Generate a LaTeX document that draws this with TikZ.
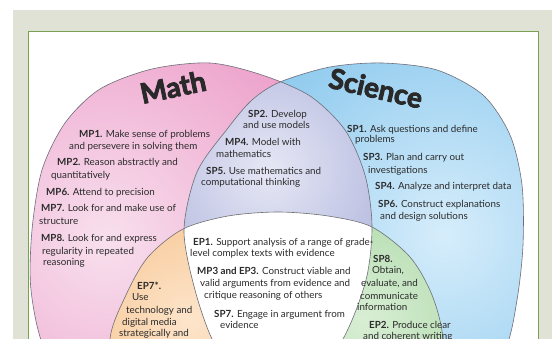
\documentclass[tikz,border=0pt]{standalone}
\usepackage{fontspec}
\setmainfont{Lato}
\newfontfamily\titlefont[BoldFeatures={FakeBold=3}]{Lato}
\definecolor{bgc}{HTML}{DFE2D4}
\definecolor{framec}{HTML}{7AA052}
\definecolor{txt}{HTML}{2B2B2B}
\definecolor{pinkO}{HTML}{E98ABE}
\definecolor{pinkI}{HTML}{F8E0EE}
\definecolor{blueO}{HTML}{78BFEA}
\definecolor{blueI}{HTML}{D6EDFB}
\definecolor{purpO}{HTML}{939ACF}
\definecolor{purpI}{HTML}{E6E7F5}
\definecolor{orO}{HTML}{F3B474}
\definecolor{orI}{HTML}{FDE5CB}
\definecolor{grO}{HTML}{9BD096}
\definecolor{grI}{HTML}{D8EED4}
\definecolor{edgec}{HTML}{6E6E78}
\begin{document}
\begin{tikzpicture}[x=1pt,y=-1pt,
  t/.style={anchor=base west, inner sep=0pt, font=\fontsize{9.8}{11}\selectfont, text=txt},
  title/.style={inner sep=0pt, font=\titlefont\fontsize{28}{28}\selectfont\bfseries, text=txt!95!black},
  edge/.style={draw=edgec, line width=0.6pt}]
\useasboundingbox (0,0) rectangle (552,339);
\fill[bgc] (13,10) rectangle (552,339);
\def\Mpath{plot[smooth cycle] coordinates {(210,63) (262,75) (310,96) (345,130) (365,175) (372,226) (366,280) (343,339) (300,400) (230,435) (150,430) (85,400) (45,350) (31,290) (32,230) (42,170) (65,123) (100,89) (152,69)}}
\def\Spath{plot[smooth cycle] coordinates {(382,63) (437,70) (483,95) (510,135) (522,185) (523,245) (517,300) (505,350) (470,400) (400,430) (320,420) (250,390) (215,345) (195,290) (184,230) (197,172) (228,128) (252,100) (280,82) (330,67)}}
\def\Epath{plot[smooth cycle] coordinates {(278,212) (328,216) (372,227) (410,257) (432,295) (443,339) (440,400) (380,450) (278,465) (176,450) (116,400) (110,339) (126,295) (148,257) (183,229) (228,216)}}
\begin{scope}
  \clip (28,32) rectangle (538,339);
  \fill[white] (28,32) rectangle (538,339);
  \begin{scope}
    \clip \Mpath;
    \shade[inner color=pinkI, outer color=pinkO] (105,240) circle (330pt);
  \end{scope}
  \begin{scope}
    \clip \Spath;
    \shade[inner color=blueI, outer color=blueO] (445,235) circle (300pt);
  \end{scope}
  \begin{scope}
    \clip \Mpath;
    \clip \Spath;
    \shade[inner color=purpI, outer color=purpO] (268,170) circle (230pt);
  \end{scope}
  \begin{scope}
    \clip \Mpath;
    \clip \Epath;
    \shade[inner color=orI, outer color=orO] (190,320) circle (200pt);
  \end{scope}
  \begin{scope}
    \clip \Spath;
    \clip \Epath;
    \shade[inner color=grI, outer color=grO] (365,320) circle (200pt);
  \end{scope}
  \begin{scope}
    \clip \Mpath;
    \clip \Spath;
    \fill[white] \Epath;
  \end{scope}
  \draw[edge] \Mpath;
  \draw[edge] \Spath;
  \draw[edge] \Epath;
\end{scope}
\draw[framec, line width=1pt] (28,345) -- (28,32) -- (538,32) -- (538,345);

\node[title, rotate=12] (math) at (173,87) {Math};
\node[title, rotate=-13] (sci) at (376,88) {Science};

% Math block
\node[t] (mp1a) at (79,138) {\textbf{MP1.} Make sense of problems};
\node[t] (mp1b) at (69,149.5) {and persevere in solving them};
\node[t] (mp2a) at (57,166) {\textbf{MP2.} Reason abstractly and};
\node[t] (mp2b) at (51,178.5) {quantitatively};
\node[t] (mp6) at (46,196) {\textbf{MP6.} Attend to precision};
\node[t] (mp7a) at (41,212) {\textbf{MP7.} Look for and make use of};
\node[t] (mp7b) at (39,225) {structure};
\node[t] (mp8a) at (41,242) {\textbf{MP8.} Look for and express};
\node[t] (mp8b) at (42,255) {regularity in repeated};
\node[t] (mp8c) at (43,266) {reasoning};

% Math and Science
\node[t] (sp2a) at (248,118) {\textbf{SP2.} Develop};
\node[t] (sp2b) at (243,129) {and use models};
\node[t] (mp4a) at (225,146) {\textbf{MP4.} Model with};
\node[t] (mp4b) at (216,158) {mathematics};
\node[t] (sp5a) at (206,175) {\textbf{SP5.} Use mathematics and};
\node[t] (sp5b) at (201,186) {computational thinking};

% Science block
\node[t] (sp1a) at (347,133) {\textbf{SP1.} Ask questions and define};
\node[t] (sp1b) at (355,143) {problems};
\node[t] (sp3a) at (363,161) {\textbf{SP3.} Plan and carry out};
\node[t] (sp3b) at (368,174) {investigations};
\node[t] (sp4) at (375,190) {\textbf{SP4.} Analyze and interpret data};
\node[t] (sp6a) at (378,208) {\textbf{SP6.} Construct explanations};
\node[t] (sp6b) at (380,220) {and design solutions};

% centre
\node[t] (ep1a) at (193,246) {\textbf{EP1.} Support analysis of a range of grade-};
\node[t] (ep1b) at (190,257) {level complex texts with evidence};
\node[t] (mp3a) at (197,275) {\textbf{MP3 and EP3.} Construct viable and};
\node[t] (mp3b) at (200,287) {valid arguments from evidence and};
\node[t] (mp3c) at (204,299) {critique reasoning of others};
\node[t] (sp7a) at (214,317) {\textbf{SP7.} Engage in argument from};
\node[t] (sp7b) at (220,329) {evidence};

% Math and ELA
\node[t] (ep7a) at (137,290) {\textbf{EP7*.}};
\node[t] (ep7b) at (132,301) {Use};
\node[t] (ep7c) at (126,313) {technology and};
\node[t] (ep7d) at (122,326) {digital media};
\node[t] (ep7e) at (119,337) {strategically and};

% Science and ELA
\node[t] (sp8a) at (373,263) {\textbf{SP8.}};
\node[t] (sp8b) at (372,274) {Obtain,};
\node[t] (sp8c) at (361,287) {evaluate, and};
\node[t] (sp8d) at (360,300) {communicate};
\node[t] (sp8e) at (357,311) {information};
\node[t] (ep2a) at (369,329) {\textbf{EP2.} Produce clear};
\node[t] (ep2b) at (363,340) {and coherent writing};
\end{tikzpicture}
\end{document}
